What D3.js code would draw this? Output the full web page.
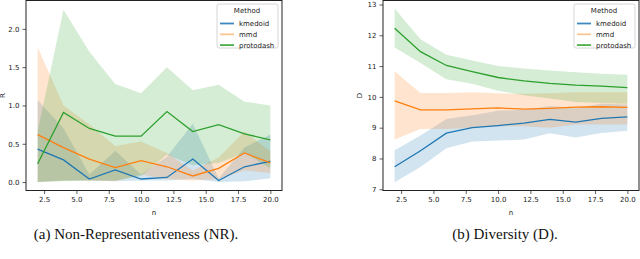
<!DOCTYPE html>
<html>
<head>
<meta charset="utf-8">
<script src="https://cdn.jsdelivr.net/npm/d3@7"></script>
<style>
  body { margin: 0; background: #fff; }
  svg { display: block; }
  .tick text { font-family: "DejaVu Sans", sans-serif; font-size: 7px; fill: #222; }
  .caption { font-family: "Liberation Serif", "Times New Roman", serif; font-size: 15px; fill: #111; }
</style>
</head>
<body>
<svg id="chart" width="640" height="259"></svg>
<script>
// sample sizes
var nVals = [2, 4, 6, 8, 10, 12, 14, 16, 18, 20];
var methods = ["kmedoid", "mmd", "protodash"];
var xTicks = [2.5, 5.0, 7.5, 10.0, 12.5, 15.0, 17.5, 20.0];

// (a) non-representativeness: mean, lower, upper
var nrKmedoid   = [0.43, 0.29, 0.04, 0.16, 0.04, 0.06, 0.30, 0.02, 0.20, 0.27];
var nrKmedoidLo = [0.00, 0.02, 0.02, 0.01, 0.02, 0.02, 0.04, 0.00, 0.01, 0.05];
var nrKmedoidHi = [1.07, 0.70, 0.10, 0.41, 0.10, 0.33, 0.76, 0.05, 0.45, 0.62];
var nrMmd       = [0.62, 0.45, 0.30, 0.19, 0.28, 0.20, 0.08, 0.18, 0.38, 0.25];
var nrMmdLo     = [0.00, 0.02, 0.02, 0.01, 0.10, 0.04, 0.02, 0.04, 0.15, 0.12];
var nrMmdHi     = [1.76, 1.00, 0.75, 0.47, 0.53, 0.38, 0.15, 0.32, 0.66, 0.40];
var nrProto     = [0.24, 0.91, 0.70, 0.60, 0.60, 0.92, 0.66, 0.75, 0.63, 0.55];
var nrProtoLo   = [0.00, 0.01, 0.02, 0.02, 0.08, 0.36, 0.22, 0.25, 0.38, 0.18];
var nrProtoHi   = [0.66, 2.25, 1.70, 1.28, 1.16, 1.50, 1.20, 1.27, 1.05, 1.00];
var nrTicks = [0.0, 0.5, 1.0, 1.5, 2.0];

// (b) diversity
var dKmedoid   = [7.73, 8.25, 8.82, 9.00, 9.07, 9.15, 9.27, 9.18, 9.30, 9.35];
var dKmedoidLo = [7.23, 7.72, 8.33, 8.55, 8.58, 8.62, 8.82, 8.68, 8.83, 8.90];
var dKmedoidHi = [8.27, 8.75, 9.28, 9.40, 9.55, 9.58, 9.70, 9.65, 9.78, 9.75];
var dMmd       = [9.87, 9.58, 9.58, 9.61, 9.64, 9.60, 9.63, 9.67, 9.68, 9.66];
var dMmdLo     = [8.62, 8.96, 8.96, 9.00, 9.05, 9.05, 9.00, 9.10, 9.10, 9.10];
var dMmdHi     = [10.83, 10.13, 10.13, 10.15, 10.12, 10.10, 10.12, 10.15, 10.15, 10.15];
var dProto     = [12.23, 11.47, 11.02, 10.82, 10.63, 10.52, 10.44, 10.38, 10.35, 10.30];
var dProtoLo   = [11.60, 11.10, 10.57, 10.43, 10.20, 10.05, 9.95, 9.83, 9.80, 9.78];
var dProtoHi   = [12.87, 11.87, 11.37, 11.18, 11.00, 10.92, 10.86, 10.80, 10.75, 10.72];
var dTicks = [7, 8, 9, 10, 11, 12, 13];

var colors = { kmedoid: "#1f77b4", mmd: "#ff7f0e", protodash: "#2ca02c" };
var legendColors = { kmedoid: "#3d88c0", mmd: "#fec594", protodash: "#4bb04b" };

var svg = d3.select("#chart");

var panels = [
	{
		left: 26, right: 282, top: 0.5, bottom: 190.5,
		yDomain: [-0.11, 2.37], yTicks: nrTicks, yFmt: d3.format(".1f"), yLabel: "R",
		series: [
			{ name: "kmedoid", mean: nrKmedoid, lo: nrKmedoidLo, hi: nrKmedoidHi },
			{ name: "mmd", mean: nrMmd, lo: nrMmdLo, hi: nrMmdHi },
			{ name: "protodash", mean: nrProto, lo: nrProtoLo, hi: nrProtoHi }
		],
		caption: "(a) Non-Representativeness (NR).", captionX: 136
	},
	{
		left: 383, right: 639, top: 0.5, bottom: 190.5,
		yDomain: [6.96, 13.13], yTicks: dTicks, yFmt: d3.format("d"), yLabel: "D",
		series: [
			{ name: "kmedoid", mean: dKmedoid, lo: dKmedoidLo, hi: dKmedoidHi },
			{ name: "mmd", mean: dMmd, lo: dMmdLo, hi: dMmdHi },
			{ name: "protodash", mean: dProto, lo: dProtoLo, hi: dProtoHi }
		],
		caption: "(b) Diversity (D).", captionX: 505
	}
];

panels.forEach(function(p) {
	var x = d3.scaleLinear().domain([1.1, 20.9]).range([p.left, p.right]);
	var y = d3.scaleLinear().domain(p.yDomain).range([p.bottom, p.top]);
	var g = svg.append("g");

	var clipId = "clip" + p.left;
	g.append("clipPath").attr("id", clipId)
		.append("rect")
		.attr("x", p.left).attr("y", p.top)
		.attr("width", p.right - p.left).attr("height", p.bottom - p.top);

	var plot = g.append("g").attr("clip-path", "url(#" + clipId + ")");

	// confidence bands first, then the lines on top
	p.series.forEach(function(s) {
		var area = d3.area()
			.x(function(d, i) { return x(nVals[i]); })
			.y0(function(d, i) { return y(s.lo[i]); })
			.y1(function(d, i) { return y(s.hi[i]); });
		plot.append("path")
			.datum(s.mean)
			.attr("d", area)
			.attr("fill", colors[s.name])
			.attr("fill-opacity", 0.2)
			.attr("stroke", "none");
	});

	p.series.forEach(function(s) {
		var line = d3.line()
			.x(function(d, i) { return x(nVals[i]); })
			.y(function(d) { return y(d); });
		plot.append("path")
			.datum(s.mean)
			.attr("d", line)
			.attr("fill", "none")
			.attr("stroke", colors[s.name])
			.attr("stroke-width", 1.3);
	});

	// axes
	var xAxis = d3.axisBottom(x).tickValues(xTicks).tickFormat(d3.format(".1f")).tickSizeOuter(0).tickSize(3.5).tickPadding(3);
	var yAxis = d3.axisLeft(y).tickValues(p.yTicks).tickFormat(p.yFmt).tickSizeOuter(0).tickSize(3.5).tickPadding(3);

	g.append("g").attr("transform", "translate(0," + p.bottom + ")").call(xAxis)
		.call(function(a) { a.select(".domain").remove(); a.selectAll("line").attr("stroke", "#333").attr("stroke-width", 0.8); });
	g.append("g").attr("transform", "translate(" + p.left + ",0)").call(yAxis)
		.call(function(a) { a.select(".domain").remove(); a.selectAll("line").attr("stroke", "#333").attr("stroke-width", 0.8); });

	// frame
	g.append("rect")
		.attr("x", p.left).attr("y", p.top)
		.attr("width", p.right - p.left).attr("height", p.bottom - p.top)
		.attr("fill", "none").attr("stroke", "#222").attr("stroke-width", 1);

	// labels
	g.append("text")
		.attr("transform", "translate(" + (p.left - 21) + "," + ((p.top + p.bottom) / 2) + ") rotate(-90)")
		.attr("text-anchor", "middle")
		.style("font-family", "DejaVu Sans, sans-serif").style("font-size", "7px").attr("fill", "#222")
		.text(p.yLabel);
	g.append("text")
		.attr("x", (p.left + p.right) / 2).attr("y", p.bottom + 24)
		.attr("text-anchor", "middle")
		.style("font-family", "DejaVu Sans, sans-serif").style("font-size", "7px").attr("fill", "#222")
		.text("n");
	g.append("text")
		.attr("class", "caption")
		.attr("x", p.captionX).attr("y", p.bottom + 48)
		.attr("text-anchor", "middle")
		.text(p.caption);

	// legend
	var lx = p.right - 65, ly = 4;
	var legend = g.append("g").attr("transform", "translate(" + lx + "," + ly + ")");
	legend.append("rect")
		.attr("width", 61).attr("height", 44).attr("rx", 2)
		.attr("fill", "#fff").attr("fill-opacity", 0.8)
		.attr("stroke", "#ccc").attr("stroke-width", 0.8);
	legend.append("text")
		.attr("x", 30).attr("y", 9)
		.attr("text-anchor", "middle")
		.style("font-family", "DejaVu Sans, sans-serif").style("font-size", "7px").attr("fill", "#222")
		.text("Method");
	methods.forEach(function(m, i) {
		var yy = 19.5 + i * 10.8;
		legend.append("line")
			.attr("x1", 3).attr("x2", 17).attr("y1", yy).attr("y2", yy)
			.attr("stroke", legendColors[m]).attr("stroke-width", 1.8);
		legend.append("text")
			.attr("x", 22).attr("y", yy + 2.5)
			.style("font-family", "DejaVu Sans, sans-serif").style("font-size", "7px").attr("fill", "#222")
			.text(m);
	});
});
</script>
</body>
</html>
